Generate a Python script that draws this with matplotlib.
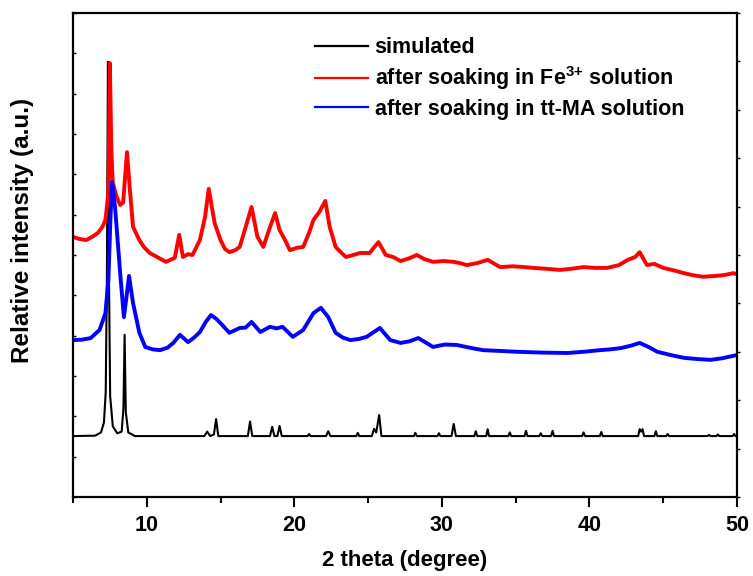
import matplotlib
matplotlib.use("Agg")
import matplotlib.pyplot as plt
from matplotlib.lines import Line2D
import numpy as np

plt.rcParams['font.family'] = ['Liberation Sans', 'DejaVu Sans']
plt.rcParams['font.weight'] = 'bold'
plt.rcParams['mathtext.fontset'] = 'custom'
plt.rcParams['mathtext.rm'] = 'Liberation Sans:bold'
plt.rcParams['mathtext.bf'] = 'Liberation Sans:bold'

# simulated pattern
sim_x = [5.0, 6.5, 6.9, 7.1, 7.22, 7.3, 7.37, 7.44, 7.52, 7.7, 8.0, 8.3, 8.42, 8.5, 8.58, 8.75, 9.2,
         13.9, 14.1, 14.3, 14.55, 14.7, 14.85, 16.85, 17.0, 17.15, 18.35, 18.5, 18.65, 18.85, 19.0, 19.15,
         20.9, 21.0, 21.1, 22.15, 22.3, 22.45, 24.2, 24.3, 24.4, 25.25, 25.4, 25.55, 25.75, 25.9,
         28.1, 28.2, 28.3, 29.7, 29.8, 29.9, 30.65, 30.8, 30.95, 32.2, 32.3, 32.4, 33.0, 33.1, 33.2,
         34.5, 34.6, 34.7, 35.6, 35.7, 35.8, 36.6, 36.7, 36.8, 37.4, 37.5, 37.6, 39.5, 39.6, 39.7,
         40.7, 40.8, 40.9, 43.3, 43.4, 43.5, 43.6, 43.7, 44.4, 44.5, 44.6, 45.2, 45.3, 45.4,
         48.0, 48.1, 48.2, 48.6, 48.7, 48.8, 49.7, 49.8, 49.9, 50.0]
sim_y = [1.51, 1.52, 1.6, 1.85, 2.6, 5.5, 10.79, 5.5, 2.5, 1.75, 1.58, 1.62, 2.2, 4.02, 2.1, 1.6, 1.51,
         1.51, 1.62, 1.51, 1.55, 1.93, 1.51, 1.51, 1.87, 1.51, 1.51, 1.74, 1.51, 1.51, 1.76, 1.51,
         1.51, 1.56, 1.51, 1.51, 1.63, 1.51, 1.51, 1.59, 1.51, 1.51, 1.69, 1.6, 2.03, 1.51,
         1.51, 1.59, 1.51, 1.51, 1.58, 1.51, 1.51, 1.81, 1.51, 1.51, 1.63, 1.51, 1.51, 1.68, 1.51,
         1.51, 1.6, 1.51, 1.51, 1.64, 1.51, 1.51, 1.58, 1.51, 1.51, 1.64, 1.51, 1.51, 1.6, 1.51,
         1.51, 1.61, 1.51, 1.51, 1.68, 1.62, 1.68, 1.51, 1.51, 1.63, 1.51, 1.51, 1.56, 1.51,
         1.51, 1.54, 1.51, 1.51, 1.55, 1.51, 1.51, 1.56, 1.51, 1.51]

# after soaking in Fe3+ solution
fe_x = [5.0, 5.4, 5.9, 6.3, 6.7, 7.0, 7.2, 7.4, 7.5, 7.6, 7.7, 7.95, 8.2, 8.4, 8.66, 8.86, 9.07, 9.5, 9.8,
        10.2, 10.7, 11.3, 11.9, 12.2, 12.45, 12.8, 13.1, 13.6, 13.95, 14.2, 14.6, 15.0, 15.3, 15.6, 16.0,
        16.3, 16.7, 17.1, 17.5, 17.9, 18.35, 18.7, 19.0, 19.4, 19.7, 20.2, 20.6, 21.0, 21.3, 21.7, 22.1,
        22.4, 22.8, 23.2, 23.5, 24.0, 24.45, 25.1, 25.7, 26.2, 26.7, 27.2, 27.8, 28.3, 28.8, 29.4, 30.1,
        30.8, 31.2, 31.7, 32.4, 33.1, 33.95, 34.8, 35.6, 36.2, 37.0, 38.0, 38.8, 39.6, 40.4, 41.2, 42.0,
        42.6, 43.1, 43.4, 43.9, 44.4, 45.0, 45.7, 46.4, 47.0, 47.7, 48.5, 49.1, 49.75, 50.0]
fe_y = [6.45, 6.4, 6.37, 6.45, 6.55, 6.7, 6.87, 7.54, 10.76, 8.6, 7.79, 7.45, 7.24, 7.3, 8.55, 7.61, 6.7, 6.37, 6.2,
        6.05, 5.95, 5.83, 5.93, 6.5, 5.95, 6.02, 6.0, 6.37, 6.94, 7.64, 6.79, 6.37, 6.15, 6.07, 6.12,
        6.2, 6.69, 7.19, 6.45, 6.2, 6.69, 7.04, 6.62, 6.35, 6.12, 6.18, 6.2, 6.55, 6.87, 7.07, 7.34,
        6.69, 6.2, 6.05, 5.95, 6.0, 6.05, 6.05, 6.32, 6.0, 5.95, 5.85, 5.92, 6.0, 5.9, 5.83, 5.85,
        5.83, 5.8, 5.75, 5.8, 5.88, 5.7, 5.72, 5.7, 5.68, 5.66, 5.63, 5.66, 5.7, 5.68, 5.68, 5.75,
        5.88, 5.95, 6.07, 5.75, 5.78, 5.68, 5.62, 5.55, 5.5, 5.46, 5.48, 5.5, 5.55, 5.52]

# after soaking in tt-MA solution
ma_x = [5.0, 5.6, 6.2, 6.8, 7.2, 7.4, 7.55, 7.65, 7.85, 8.2, 8.45, 8.6, 8.8, 9.07, 9.5, 9.9, 10.4, 10.9,
        11.4, 11.8, 12.25, 12.8, 13.2, 13.6, 14.0, 14.35, 14.7, 15.0, 15.6, 16.3, 16.7, 17.1, 17.7,
        18.35, 18.8, 19.2, 19.9, 20.6, 21.3, 21.8, 22.3, 22.8, 23.3, 23.8, 24.4, 24.9, 25.8, 26.5,
        27.2, 27.8, 28.4, 29.4, 30.2, 31.0, 31.9, 32.8, 34.0, 35.1, 36.8, 38.5, 39.6, 40.7, 41.4,
        42.1, 42.8, 43.4, 44.0, 44.6, 45.5, 46.4, 47.3, 48.2, 49.0, 49.75, 50.0]
ma_y = [3.89, 3.9, 3.94, 4.14, 4.56, 5.38, 7.0, 7.81, 7.19, 5.55, 4.46, 4.88, 5.48, 4.81, 4.07, 3.72, 3.66, 3.64,
        3.7, 3.82, 4.02, 3.84, 3.95, 4.09, 4.34, 4.51, 4.42, 4.31, 4.07, 4.19, 4.2, 4.34, 4.09,
        4.22, 4.18, 4.22, 3.97, 4.14, 4.56, 4.69, 4.46, 4.07, 3.95, 3.89, 3.92, 3.97, 4.19, 3.89,
        3.82, 3.86, 3.94, 3.72, 3.78, 3.77, 3.7, 3.64, 3.62, 3.6, 3.58, 3.57, 3.6, 3.64, 3.66,
        3.69, 3.75, 3.82, 3.72, 3.6, 3.52, 3.45, 3.42, 3.4, 3.44, 3.5, 3.52]

labels = ['simulated', r'after soaking in Fe$^{\text{3+}}$ solution', 'after soaking in tt-MA solution']
colors = ['black', 'red', 'blue']

fig = plt.figure(figsize=(7.53, 5.76), dpi=100)
ax = fig.add_axes([0.0969, 0.1372, 0.8819, 0.8402])

ax.plot(sim_x, sim_y, color=colors[0], lw=1.5)
ax.plot(fe_x, fe_y, color=colors[1], lw=2.8)
ax.plot(ma_x, ma_y, color=colors[2], lw=2.8)

ax.set_xlim(5, 50)
ax.set_ylim(0, 12)
ax.set_xticks([10, 20, 30, 40, 50])
ax.set_xticks([5, 15, 25, 35, 45], minor=True)
ax.set_yticks(np.arange(0, 13, 1))
ax.set_yticklabels([])
ax.tick_params(axis='x', which='major', direction='out', length=7, width=1.5, labelsize=15.5, pad=6)
ax.tick_params(axis='x', which='minor', direction='out', length=4, width=1.5)
ax.tick_params(axis='y', direction='in', length=2.5, width=1)
for s in ax.spines.values():
    s.set_linewidth(1.6)

ax2 = ax.twinx()
ax2.set_ylim(0, 12)
ax2.set_yticks(np.arange(0, 12.01, 1.2))
ax2.set_yticklabels([])
ax2.tick_params(axis='y', direction='out', length=2.5, width=1)
for s in ax2.spines.values():
    s.set_visible(False)

ax.set_xlabel('2 theta (degree)', fontsize=16, fontweight='bold', labelpad=10)
ax.set_ylabel('Relative intensity (a.u.)', fontsize=17.5, fontweight='bold')
ax.yaxis.set_label_coords(-0.059, 0.55)

handles = [Line2D([], [], color=c, lw=1.6) for c in colors]
ax.legend(handles, labels, loc='upper left', bbox_to_anchor=(0.352, 0.968), frameon=False,
          fontsize=15.5, handlelength=2.45, handletextpad=0.3, labelspacing=0.3, borderaxespad=0)

fig.savefig('out.png', dpi=100)
